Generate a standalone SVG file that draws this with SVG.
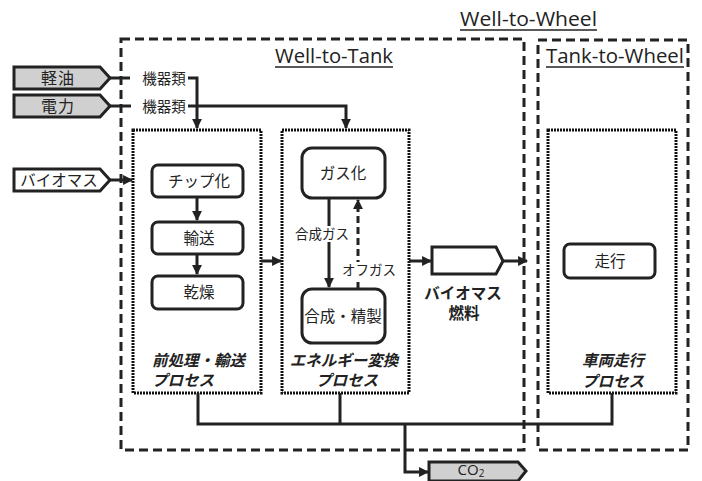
<svg xmlns="http://www.w3.org/2000/svg" width="702" height="481" viewBox="0 0 702 481">
<style>
.jp{font-family:"Noto Sans CJK JP","Noto Sans",sans-serif;fill:#222;}
.lat{font-family:"Open Sans","Liberation Sans",sans-serif;fill:#222;}
.outer{fill:none;stroke:#222;stroke-width:3;stroke-dasharray:9 5;}
.proc{fill:none;stroke:#111;stroke-width:3;stroke-dasharray:2 1;}
.rbox{fill:#fff;stroke:#222;stroke-width:3;}
.line{fill:none;stroke:#222;stroke-width:3;}
.ital{font-weight:bold;font-style:italic;}
</style>
<defs>
<marker id="ah" viewBox="0 0 10 10" refX="9" refY="5" markerWidth="3.3" markerHeight="3.3" orient="auto" markerUnits="strokeWidth">
<path d="M0,0 L10,5 L0,10 z" fill="#222"/>
</marker>
</defs>
<rect width="702" height="481" fill="#fff"/>

<g id="well-to-wheel">
<text class="lat" x="460" y="26" font-size="20" textLength="137" lengthAdjust="spacingAndGlyphs">Well-to-Wheel</text>
<line x1="460" y1="30" x2="597" y2="30" stroke="#222" stroke-width="1.5"/>
</g>

<g id="well-to-tank">
<rect class="outer" x="121" y="39" width="403" height="411"/>
<text class="lat" x="275" y="63" font-size="20" textLength="118" lengthAdjust="spacingAndGlyphs">Well-to-Tank</text>
<line x1="275" y1="67" x2="393" y2="67" stroke="#222" stroke-width="1.5"/>
</g>

<g id="tank-to-wheel">
<rect class="outer" x="538" y="40" width="150" height="410"/>
<text class="lat" x="546" y="63" font-size="20" textLength="138" lengthAdjust="spacingAndGlyphs">Tank-to-Wheel</text>
<line x1="546" y1="67" x2="684" y2="67" stroke="#222" stroke-width="1.5"/>
</g>

<g id="keiyu">
<path d="M14,67 L100,67 L110,78 L100,89 L14,89 z" fill="#d0d0d0" stroke="#222" stroke-width="3"/>
<text class="jp" x="58" y="84" font-size="16" letter-spacing="1" text-anchor="middle">軽油</text>
</g>
<g id="denryoku">
<path d="M14,95 L100,95 L110,106 L100,117 L14,117 z" fill="#d0d0d0" stroke="#222" stroke-width="3"/>
<text class="jp" x="58" y="112" font-size="16" letter-spacing="1" text-anchor="middle">電力</text>
</g>
<g id="biomass-in">
<path d="M14,169 L100,169 L110,180 L100,191 L14,191 z" fill="#fff" stroke="#222" stroke-width="3"/>
<text class="jp" x="59" y="186" font-size="15.5" text-anchor="middle">バイオマス</text>
</g>

<g id="kiki1"><text class="jp" x="164" y="84" font-size="14.5" text-anchor="middle">機器類</text></g>
<g id="kiki2"><text class="jp" x="164" y="112" font-size="14.5" text-anchor="middle">機器類</text></g>

<g id="proc1">
<rect class="proc" x="133" y="130" width="128" height="263"/>
<text class="jp ital" x="152" y="366" font-size="15.5">前処理・輸送</text>
<text class="jp ital" x="152" y="386" font-size="15.5">プロセス</text>
</g>
<g id="proc2">
<rect class="proc" x="282" y="130" width="127" height="263"/>
<text class="jp ital" x="344" y="366" font-size="15.5" text-anchor="middle">エネルギー変換</text>
<text class="jp ital" x="347" y="386" font-size="15.5" text-anchor="middle">プロセス</text>
</g>
<g id="proc3">
<rect class="proc" x="548" y="130" width="128" height="263"/>
<text class="jp ital" x="613" y="366" font-size="15.5" text-anchor="middle">車両走行</text>
<text class="jp ital" x="613" y="387" font-size="15.5" text-anchor="middle">プロセス</text>
</g>

<g id="chip">
<rect class="rbox" x="152" y="165" width="91" height="32" rx="6"/>
<text class="jp" x="199" y="187" font-size="15.5" text-anchor="middle">チップ化</text>
</g>
<g id="yuso">
<rect class="rbox" x="152" y="222" width="91" height="32" rx="6"/>
<text class="jp" x="199" y="244" font-size="15.5" text-anchor="middle">輸送</text>
</g>
<g id="kanso">
<rect class="rbox" x="152" y="276" width="91" height="33" rx="6"/>
<text class="jp" x="199" y="298" font-size="15.5" text-anchor="middle">乾燥</text>
</g>
<g id="gasuka">
<rect class="rbox" x="302" y="148" width="83" height="50" rx="10"/>
<text class="jp" x="343" y="179" font-size="15.5" text-anchor="middle">ガス化</text>
</g>
<g id="gosei">
<rect class="rbox" x="302" y="289" width="83" height="54" rx="10"/>
<text class="jp" x="343" y="322" font-size="15.5" text-anchor="middle">合成・精製</text>
</g>
<g id="fuel">
<path d="M432,247 L496,247 L503,261 L496,274 L432,274 z" fill="#fff" stroke="#222" stroke-width="3"/>
<text class="jp" x="463" y="299" font-size="15.5" font-weight="bold" text-anchor="middle">バイオマス</text>
<text class="jp" x="464" y="319" font-size="15.5" font-weight="bold" text-anchor="middle">燃料</text>
</g>
<g id="soko">
<rect class="rbox" x="564" y="244" width="91" height="34" rx="6"/>
<text class="jp" x="610" y="267" font-size="15.5" text-anchor="middle">走行</text>
</g>
<g id="co2">
<path d="M429,462 L518,462 L526,471 L518,481 L429,481 z" fill="#d0d0d0" stroke="#222" stroke-width="3"/>
<text class="lat" x="471" y="475" font-size="15" text-anchor="middle">CO<tspan font-size="10" dy="2">2</tspan></text>
</g>

<g id="connectors">
<line class="line" x1="110" y1="78" x2="130" y2="78"/>
<polyline class="line" points="188,78 197,78 197,128" marker-end="url(#ah)"/>
<line class="line" x1="110" y1="106" x2="131" y2="106"/>
<polyline class="line" points="188,106 346,106 346,128" marker-end="url(#ah)"/>
<line class="line" x1="110" y1="180" x2="132" y2="180" marker-end="url(#ah)"/>
<line class="line" x1="197" y1="197" x2="197" y2="220" marker-end="url(#ah)"/>
<line class="line" x1="197" y1="254" x2="197" y2="274" marker-end="url(#ah)"/>
<line class="line" x1="261" y1="261" x2="281" y2="261" marker-end="url(#ah)"/>
<line class="line" x1="329" y1="198" x2="329" y2="287" marker-end="url(#ah)"/>
<line class="line" x1="358" y1="289" x2="358" y2="200" stroke-dasharray="7 4" marker-end="url(#ah)"/>
<line class="line" x1="409" y1="261" x2="431" y2="261" marker-end="url(#ah)"/>
<line class="line" x1="503" y1="261" x2="527" y2="261" stroke-width="2" marker-end="url(#ah)"/>
<polyline class="line" points="198,393 198,424 612,424 612,393"/>
<line class="line" x1="340" y1="393" x2="340" y2="424"/>
<polyline class="line" points="405,424 405,472 428,472" marker-end="url(#ah)"/>
<rect x="291" y="226" width="62" height="16" fill="#fff"/>
<text class="jp" x="322" y="239" font-size="13.5" text-anchor="middle">合成ガス</text>
<rect x="340" y="262" width="58" height="16" fill="#fff"/>
<text class="jp" x="369" y="275" font-size="13.5" text-anchor="middle">オフガス</text>
</g>
</svg>
